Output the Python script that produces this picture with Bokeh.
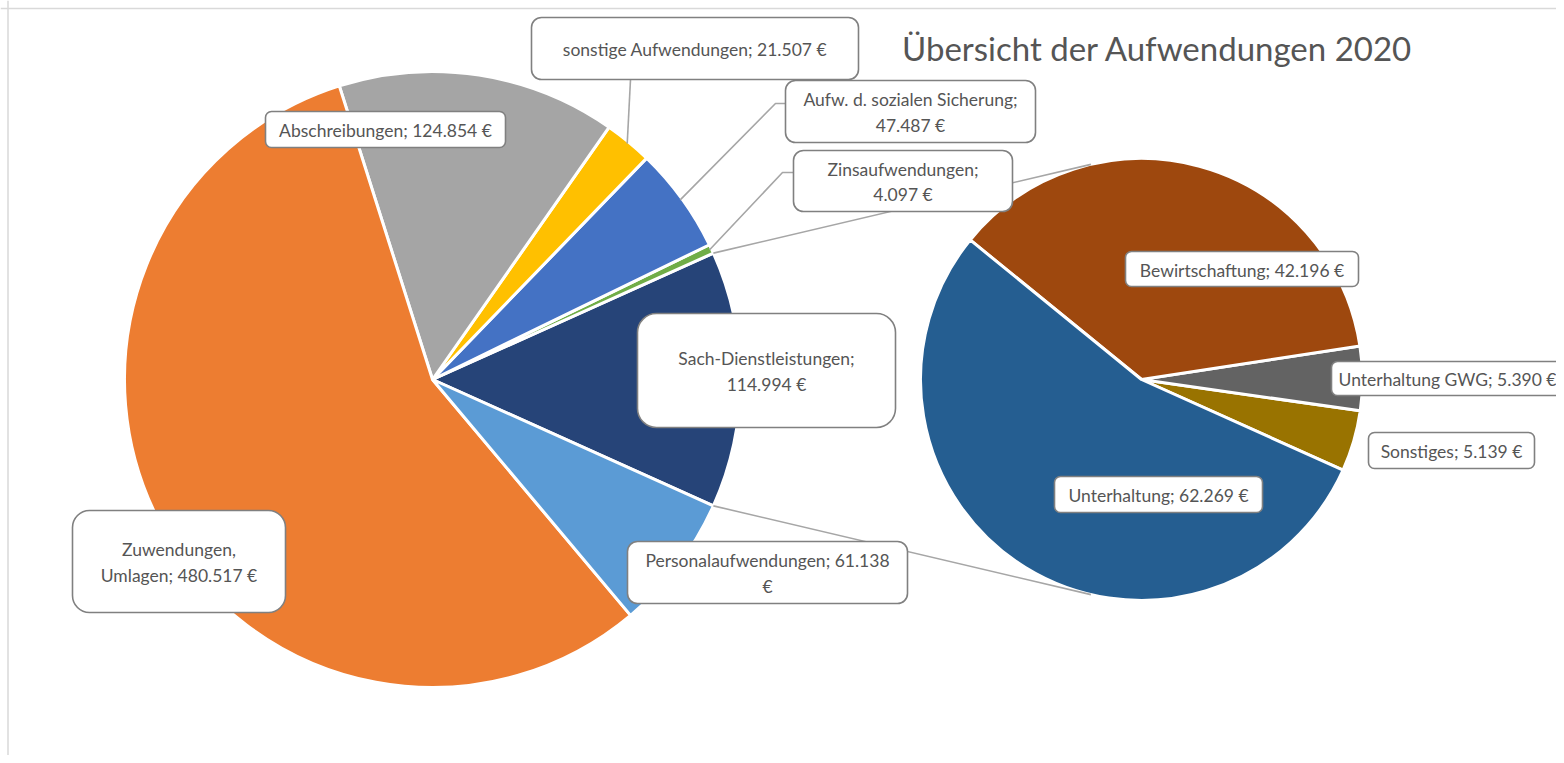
import math
import numpy as np
from bokeh.plotting import figure
from bokeh.models import BoxAnnotation, Range1d, ColumnDataSource, Span
from bokeh.core.properties import value
from bokeh.embed import file_html
from bokeh.resources import INLINE

# ---------------- data ----------------
title_text = "Übersicht der Aufwendungen 2020"

# main pie, anticlockwise starting with the split-off slice
main_names = ["Sach-Dienstleistungen", "Zinsaufwendungen", "Aufw. d. sozialen Sicherung",
              "sonstige Aufwendungen", "Abschreibungen", "Zuwendungen, Umlagen",
              "Personalaufwendungen"]
main_values = [114994, 4097, 47487, 21507, 124854, 480517, 61138]
main_colors = ["#264478", "#70AD47", "#4472C4", "#FFC000", "#A5A5A5", "#ED7D31", "#5B9BD5"]

# secondary pie (breakdown of Sach-Dienstleistungen), anticlockwise
sub_names = ["Sonstiges", "Unterhaltung GWG", "Bewirtschaftung", "Unterhaltung"]
sub_values = [5139, 5390, 42196, 62269]
sub_colors = ["#997300", "#636363", "#9E480E", "#255E91"]

# ---------------- layout helpers ----------------
W, H = 1556, 755
def X(px): return px
def Y(py): return H - py

def fmt(v):
    return f"{v:,}".replace(",", ".") + " €"

def wrap(text, after):
    if after is None:
        return text
    i = text.index(after) + len(after)
    return text[:i] + "\n" + text[i:].lstrip()

TXT = "#555555"
FONT = "Lato"
BOXLINE = "#808080"
LEAD = "#A6A6A6"

p = figure(width=W, height=H, x_range=Range1d(0, W), y_range=Range1d(0, H),
           output_backend="svg", toolbar_location=None, min_border=0,
           x_axis_location=None, y_axis_location=None)
p.grid.visible = False
p.outline_line_color = None
p.background_fill_color = "white"
p.border_fill_color = "white"

# chart area border (left & top visible)
p.add_layout(Span(location=X(7.5), dimension="height", line_color="#D9D9D9", line_width=1.5))
p.add_layout(Span(location=Y(8), dimension="width", line_color="#D9D9D9", line_width=1.5))

# ---------------- main pie ----------------
c1x, c1y, R1 = X(432), Y(379), 308
mv = np.array(main_values, dtype=float)
ma = mv / mv.sum() * 2 * math.pi
m_start = -ma[0] / 2 + np.concatenate([[0], np.cumsum(ma)[:-1]])
m_end = m_start + ma
p.wedge(x=c1x, y=c1y, radius=R1, start_angle=m_start, end_angle=m_end,
        fill_color=main_colors, line_color="white", line_width=3)

# ---------------- secondary pie ----------------
c2x, c2y, R2 = X(1141), Y(379), 221
sv = np.array(sub_values, dtype=float)
sa = sv / sv.sum() * 2 * math.pi
s_start = -ma[0] / 2 + np.concatenate([[0], np.cumsum(sa)[:-1]])
s_end = s_start + sa
p.wedge(x=c2x, y=c2y, radius=R2, start_angle=s_start, end_angle=s_end,
        fill_color=sub_colors, line_color="white", line_width=3)

# ---------------- connector lines (tangent to second pie) ----------------
for sign in (1, -1):
    ang = sign * ma[0] / 2
    px_, py_ = c1x + R1 * math.cos(ang), c1y + R1 * math.sin(ang)
    dx, dy = px_ - c2x, py_ - c2y
    d = math.hypot(dx, dy)
    th = math.atan2(dy, dx)
    t = math.acos(R2 / d)
    tang = th - t if sign > 0 else th + t
    qx, qy = c2x + R2 * math.cos(tang), c2y + R2 * math.sin(tang)
    p.line([px_, qx], [py_, qy], line_color=LEAD, line_width=1.6)

# ---------------- leader lines for callouts ----------------
mid = (m_start + m_end) / 2
leaders = {  # name -> anchor points on the box side (page px)
    "sonstige Aufwendungen": [(630, 79)],
    "Aufw. d. sozialen Sicherung": [(785, 103), (775, 103)],
    "Zinsaufwendungen": [(793, 172), (782, 172)],
}
for name, pts in leaders.items():
    i = main_names.index(name)
    xs = [X(a) for a, b in pts] + [c1x + (R1 - 2) * math.cos(mid[i])]
    ys = [Y(b) for a, b in pts] + [c1y + (R1 - 2) * math.sin(mid[i])]
    p.line(xs, ys, line_color=LEAD, line_width=1.6)

# ---------------- callout boxes & texts ----------------
# (left, right, top, bottom) in page px, line-break position
main_boxes = {
    "Sach-Dienstleistungen": ((637, 895, 313, 427), "Sach-Dienstleistungen;"),
    "Zinsaufwendungen": ((793, 1012, 150, 211), "Zinsaufwendungen;"),
    "Aufw. d. sozialen Sicherung": ((785, 1035, 80, 142), "Sicherung;"),
    "sonstige Aufwendungen": ((531, 858, 17, 79), None),
    "Abschreibungen": ((265, 505, 111, 147), None),
    "Zuwendungen, Umlagen": ((72, 285, 510, 612), "Zuwendungen,"),
    "Personalaufwendungen": ((627, 907, 541, 603), "61.138"),
}
sub_boxes = {
    "Sonstiges": ((1368, 1534, 432, 468), None),
    "Unterhaltung GWG": ((1331, 1563, 361, 395), None),
    "Bewirtschaftung": ((1125, 1358, 251, 286), None),
    "Unterhaltung": ((1054, 1262, 476, 512), None),
}

tx, ty, tt = [], [], []
def add_box(name, val, spec):
    (l, r, t, b), brk = spec
    h = b - t
    p.add_layout(BoxAnnotation(left=X(l), right=X(r), top=Y(t), bottom=Y(b),
                               fill_color="white", fill_alpha=1.0,
                               line_color=BOXLINE, line_alpha=1.0, line_width=1.6,
                               border_radius=max(6, int(h * 0.17)),
                               level="annotation"))
    tx.append(X((l + r) / 2))
    ty.append(Y((t + b) / 2 + 1))
    tt.append(wrap(f"{name}; {fmt(val)}", brk))

for n, v in zip(main_names, main_values):
    add_box(n, v, main_boxes[n])
for n, v in zip(sub_names, sub_values):
    add_box(n, v, sub_boxes[n])

src = ColumnDataSource(dict(x=tx, y=ty, text=tt))
tr = p.text(x="x", y="y", text="text", source=src, text_align="center",
            text_baseline="middle", text_font=value(FONT), text_font_size="17.5px",
            text_color=TXT, text_line_height=1.2)
tr.level = "overlay"

# ---------------- title ----------------
ttl = p.text(x=[X(1157)], y=[Y(47)], text=[title_text], text_align="center",
             text_baseline="middle", text_font=value(FONT), text_font_size="33px",
             text_color=TXT)
ttl.level = "overlay"

open("out.html", "w").write(file_html(p, INLINE))
